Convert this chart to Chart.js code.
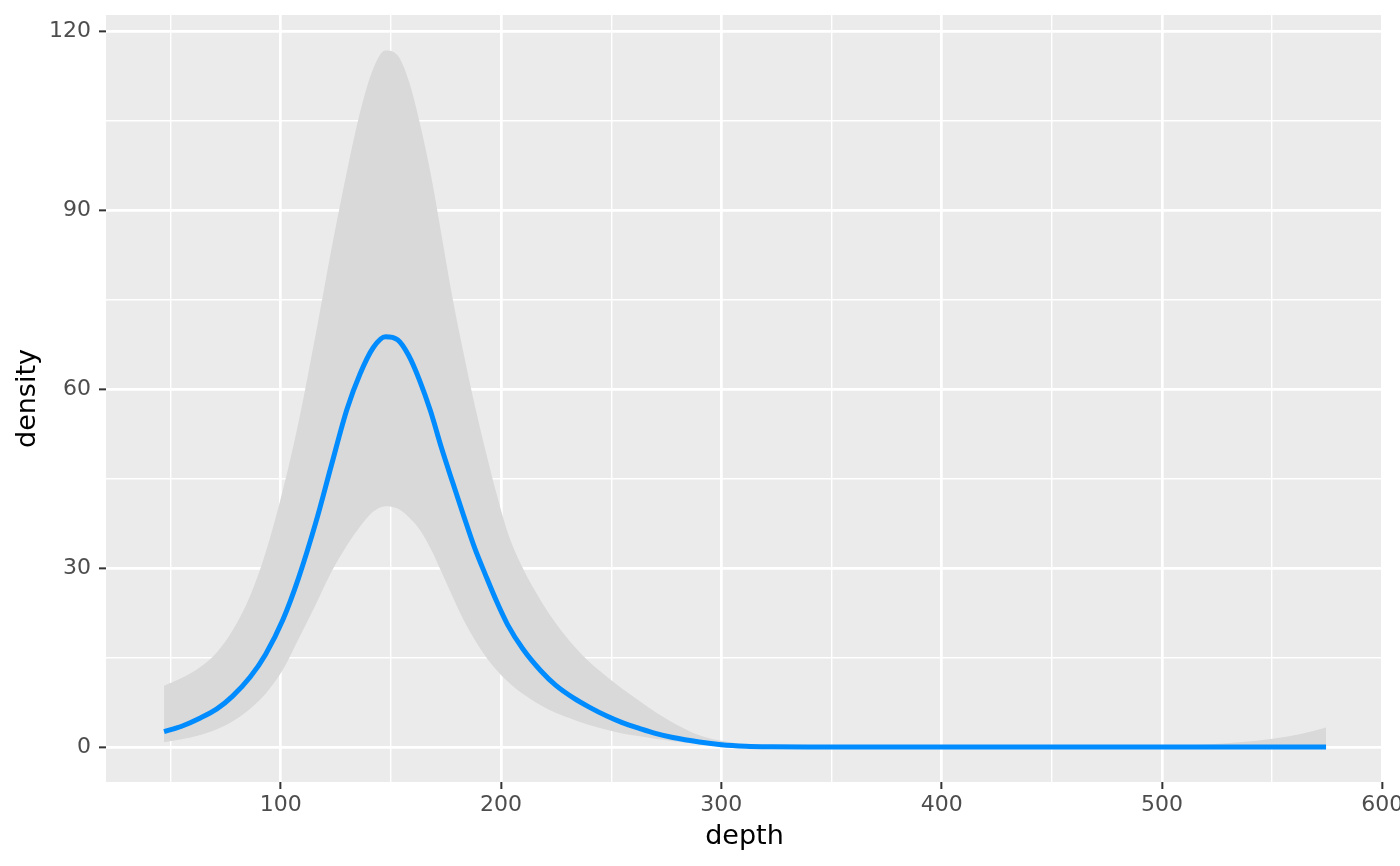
<!DOCTYPE html>
<html>
<head>
<meta charset="utf-8">
<script src="https://cdn.jsdelivr.net/npm/chart.js@4"></script>
<style>
  body { margin: 0; background: #ffffff; }
  #wrap { width: 1400px; height: 866px; }
</style>
</head>
<body>
<div id="wrap"><canvas id="density" width="1400" height="866"></canvas></div>
<script>
// depth positions where the estimate was read
const depth = [47, 55, 63, 71, 78, 86, 93, 101, 108, 116,
  123, 130, 136, 142, 147.5, 153, 158, 163, 168, 173,
  178, 183, 188, 193, 198, 203, 210, 218, 225, 233,
  240, 248, 255, 263, 270, 278, 290, 300, 311, 323,
  340, 370, 400, 430, 460, 490, 505, 520, 535, 551, 563, 574.5];
const densityMean = [2.6, 3.5, 4.8, 6.4, 8.5, 11.7, 15.5, 21.4, 28.3, 37.8,
  47.3, 56.6, 62.6, 67.0, 68.8, 68.3, 65.7, 61.5, 56.3, 50.1,
  44.4, 38.8, 33.4, 28.8, 24.4, 20.5, 16.4, 12.8, 10.3, 8.2,
  6.7, 5.2, 4.1, 3.1, 2.3, 1.6, 0.85, 0.4, 0.15, 0.05,
  0.01, 0, 0, 0, 0, 0, 0, 0, 0, 0, 0, 0];
const densityUpper = [10.3, 11.6, 13.3, 15.9, 19.5, 25.3, 32.5, 43.2, 54.4, 69.5,
  83.5, 96.5, 106.5, 113.8, 116.8, 116.0, 111.8, 104.8, 96.2, 85.8,
  75.2, 66.0, 57.4, 49.6, 42.4, 36.0, 29.9, 24.6, 20.7, 17.0,
  14.3, 11.8, 9.8, 7.7, 5.9, 4.1, 2.0, 1.05, 0.5, 0.2,
  0.05, 0.01, 0, 0, 0.02, 0.12, 0.22, 0.45, 0.8, 1.45, 2.2, 3.3];
const densityLower = [0.8, 1.3, 2.0, 3.0, 4.3, 6.4, 8.9, 13.0, 18.1, 24.0,
  29.4, 33.8, 37.0, 39.5, 40.4, 40.0, 38.6, 36.5, 33.3, 29.3,
  25.2, 21.3, 18.0, 15.2, 12.9, 11.0, 8.9, 7.0, 5.7, 4.6,
  3.7, 2.9, 2.3, 1.8, 1.4, 1.0, 0.5, 0.15, 0.05, 0.01,
  0, 0, 0, 0, 0, 0, 0, 0, 0, 0, 0, 0];
const xTicks = [50, 100, 150, 200, 250, 300, 350, 400, 450, 500, 550, 600];
const xLabels = [100, 200, 300, 400, 500, 600];
const yTicks = [0, 15, 30, 45, 60, 75, 90, 105, 120];
const yLabels = [0, 30, 60, 90, 120];

function pts(ys) {
  return depth.map((d, i) => ({ x: d, y: ys[i] }));
}

// ggplot-like grey panel behind everything
const panelBg = {
  id: "panelBg",
  beforeDraw(chart) {
    const a = chart.chartArea;
    const ctx = chart.ctx;
    ctx.save();
    ctx.fillStyle = "#ebebeb";
    ctx.fillRect(a.left, a.top, a.right - a.left, a.bottom - a.top);
    ctx.restore();
  },
};

const tickFont = { family: "DejaVu Sans", size: 22 };
const titleFont = { family: "DejaVu Sans", size: 27 };

const ctx = document.getElementById("density").getContext("2d");
const chart = new Chart(ctx, {
  type: "line",
  data: {
    datasets: [
      {
        label: "mean",
        data: pts(densityMean),
        borderColor: "#008cff",
        borderWidth: 5,
        borderCapStyle: "butt",
        pointRadius: 0,
        cubicInterpolationMode: "monotone",
        fill: false,
        order: 0,
      },
      {
        label: "upper",
        data: pts(densityUpper),
        borderWidth: 0,
        borderColor: "rgba(0,0,0,0)",
        backgroundColor: "#d9d9d9",
        pointRadius: 0,
        cubicInterpolationMode: "monotone",
        fill: "+1",
        order: 1,
      },
      {
        label: "lower",
        data: pts(densityLower),
        borderWidth: 0,
        borderColor: "rgba(0,0,0,0)",
        pointRadius: 0,
        cubicInterpolationMode: "monotone",
        fill: false,
        order: 2,
      },
    ],
  },
  options: {
    responsive: false,
    animation: false,
    devicePixelRatio: 1,
    layout: { padding: { top: 15, right: 17, left: 0, bottom: 0 } },
    plugins: {
      legend: { display: false },
      tooltip: { enabled: false },
    },
    scales: {
      x: {
        type: "linear",
        min: 20.65,
        max: 600.35,
        afterBuildTicks: (s) => { s.ticks = xTicks.map((v) => ({ value: v })); },
        afterFit: (s) => { s.height = 84; s.paddingLeft = 0; s.paddingRight = 0; },
        border: { display: false },
        grid: {
          color: "#ffffff",
          lineWidth: (c) => (xLabels.includes(c.tick.value) ? 2.7 : 1.4),
          tickLength: 7,
          tickWidth: 2,
          tickColor: (c) => (xLabels.includes(c.tick.value) ? "#333333" : "rgba(0,0,0,0)"),
        },
        ticks: {
          color: "#4d4d4d",
          font: tickFont,
          padding: 3,
          maxRotation: 0,
          autoSkip: false,
          callback: (v) => (xLabels.includes(v) ? String(v) : ""),
        },
        title: {
          display: true,
          text: "depth",
          color: "#000000",
          font: titleFont,
          padding: { top: 0, bottom: 13 },
        },
      },
      y: {
        type: "linear",
        min: -5.85,
        max: 122.75,
        afterBuildTicks: (s) => { s.ticks = yTicks.map((v) => ({ value: v })); },
        afterFit: (s) => { s.width = 106; s.paddingTop = 0; s.paddingBottom = 0; },
        border: { display: false },
        grid: {
          color: "#ffffff",
          lineWidth: (c) => (yLabels.includes(c.tick.value) ? 2.7 : 1.4),
          tickLength: 7,
          tickWidth: 2,
          tickColor: (c) => (yLabels.includes(c.tick.value) ? "#333333" : "rgba(0,0,0,0)"),
        },
        ticks: {
          color: "#4d4d4d",
          font: tickFont,
          padding: 8,
          autoSkip: false,
          callback: (v) => (yLabels.includes(v) ? String(v) : ""),
        },
        title: {
          display: true,
          text: "density",
          color: "#000000",
          font: titleFont,
          padding: { top: 12, bottom: 0 },
        },
      },
    },
  },
  plugins: [panelBg],
});
</script>
</body>
</html>
